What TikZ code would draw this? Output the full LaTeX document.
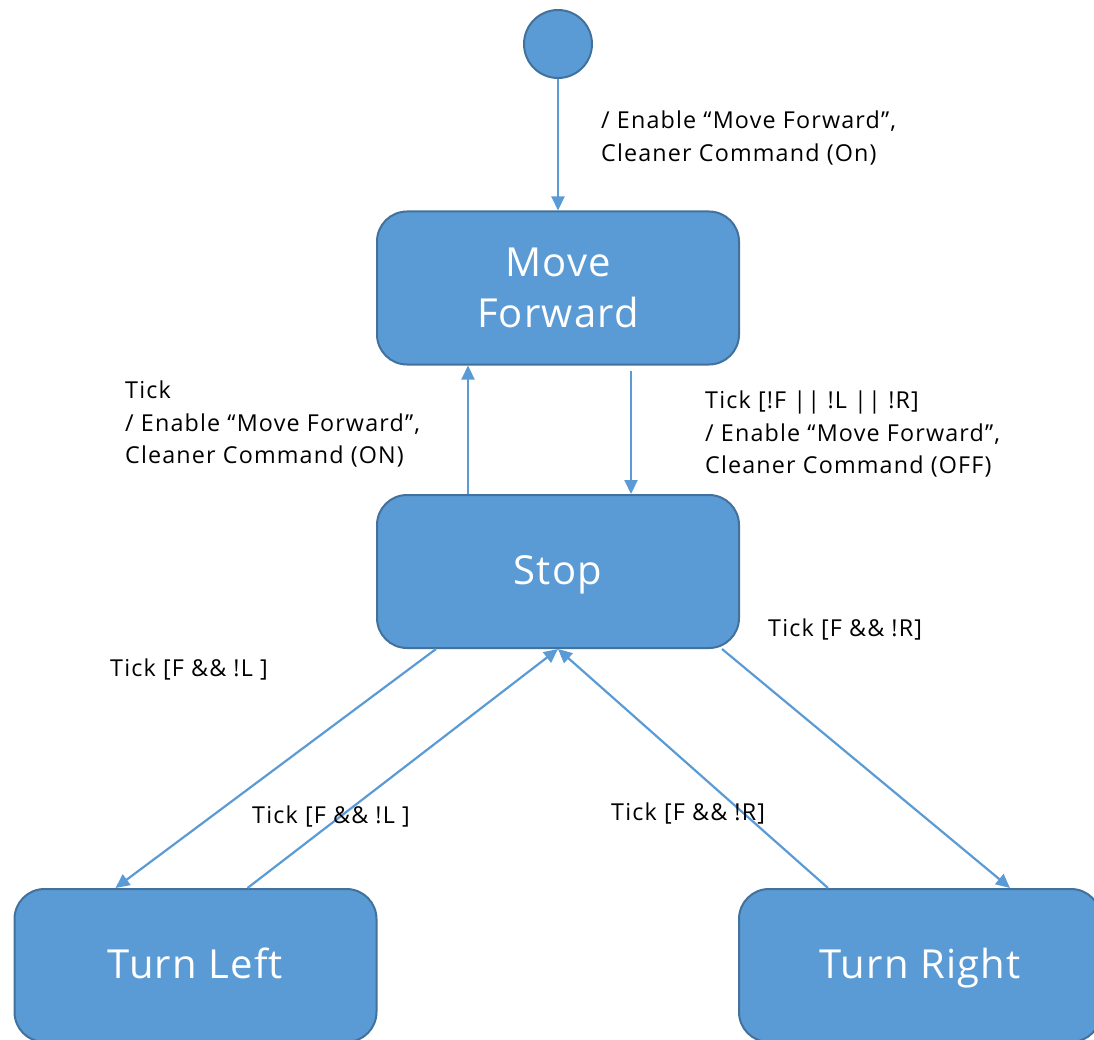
\documentclass[tikz,border=0pt]{standalone}
\usepackage{fontspec}
\setmainfont{Open Sans}
\newfontfamily\labfont{Open Sans}[LetterSpace=5]
\newfontfamily\statefont{Open Sans}[LetterSpace=3]
\usetikzlibrary{positioning,calc,arrows.meta}

\definecolor{stfill}{HTML}{5B9BD5}
\definecolor{stline}{HTML}{41719C}

\begin{document}
\begin{tikzpicture}[x=1pt,y=-1pt,
state/.style={rectangle,rounded corners=30pt,draw=stline,line width=2pt,
  fill=stfill,text=white,minimum width=362pt,minimum height=153pt,
  inner sep=0pt,align=center,font=\statefont\fontsize{40}{51}\selectfont},
onel/.style={text height=34pt,text depth=8pt},
trans/.style={draw=stfill,line width=2.2pt,-{Triangle[length=14pt,width=13pt]}},
lab/.style={anchor=west,inner sep=0pt,align=left,
  font=\labfont\fontsize{23.3}{32.5}\selectfont}]
\useasboundingbox (0,0) rectangle (1094,1040);
% states
\node[circle,draw=stline,line width=2pt,fill=stfill,minimum size=68pt,
  inner sep=0pt] (init) at (558,44) {};
\node[state] (mf) at (558,288) {Move\\Forward};
\node[state,onel] (stop) at (558,571.5) {Stop};
\node[state,onel] (tl) at (195.5,965.5) {Turn Left};
\node[state,onel] (tr) at (920,965.5) {Turn Right};
% transitions
\draw[trans] (init) -- (mf);
\draw[trans] ([xshift=-90pt]stop.north) -- ([xshift=-90pt]mf.south);
\draw[trans] ([xshift=73pt,yshift=-5pt]mf.south) -- ([xshift=73pt]stop.north);
\draw[trans] ([xshift=-122pt]stop.south) -- ([xshift=-80pt]tl.north);
\draw[trans] ([xshift=52pt]tl.north) -- (stop.south);
\draw[trans] ([xshift=-92pt]tr.north) -- (stop.south);
\draw[trans] ([xshift=164pt]stop.south) -- ([xshift=90pt]tr.north);
% labels
\node[lab] (l1) at (601,138) {/ Enable “Move Forward”,\\Cleaner Command (On)};
\node[lab] (l2) at (125,424) {Tick\\/ Enable “Move Forward”,\\Cleaner Command (ON)};
\node[lab] (l3) at (705,434) {Tick [!F || !L || !R]\\/ Enable “Move Forward”,\\Cleaner Command (OFF)};
\node[lab] (l4) at (768,629) {Tick [F \&\& !R]};
\node[lab] (l5) at (110,669) {Tick [F \&\& !L ]};
\node[lab] (l6) at (252,816) {Tick [F \&\& !L ]};
\node[lab] (l7) at (611,813) {Tick [F \&\& !R]};
\end{tikzpicture}
\end{document}
